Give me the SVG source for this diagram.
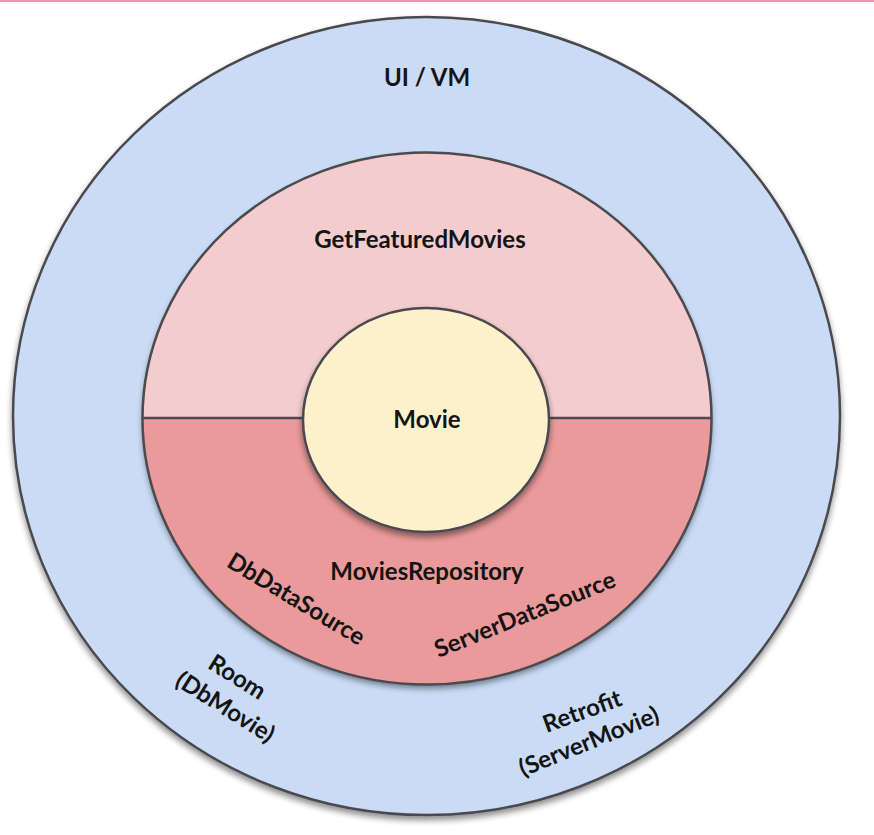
<svg xmlns="http://www.w3.org/2000/svg" width="874" height="835" viewBox="0 0 874 835">
<defs>
<filter id="sh" x="-10%" y="-10%" width="120%" height="125%">
<feGaussianBlur in="SourceAlpha" stdDeviation="3"/>
<feOffset dx="0" dy="4" result="b"/>
<feComponentTransfer><feFuncA type="linear" slope="0.45"/></feComponentTransfer>
<feMerge><feMergeNode/><feMergeNode in="SourceGraphic"/></feMerge>
</filter>
<clipPath id="top"><rect x="0" y="0" width="874" height="418"/></clipPath>
</defs>
<style>
.ring{stroke:#4a4a4f;stroke-width:2.5}
.t{font-family:Lato,"Liberation Sans",sans-serif;font-weight:700;font-size:24px;fill:#141414;text-anchor:middle}
</style>
<rect x="0" y="0" width="874" height="835" fill="#ffffff"/>
<rect x="0" y="0" width="874" height="2" fill="#e993b6"/>
<g id="ui-vm">
<ellipse class="ring" cx="426.5" cy="416" rx="413.5" ry="399" fill="#c9dbf5" filter="url(#sh)"/>
<text class="t" x="427" y="86">UI / VM</text>
</g>
<g id="use-case-layer">
<ellipse cx="427" cy="418.5" rx="284.5" ry="266" fill="#ea9a9a" filter="url(#sh)"/>
<ellipse cx="427" cy="418.5" rx="284.5" ry="266" fill="#f4cccd" clip-path="url(#top)"/>
<line x1="142" y1="418" x2="712" y2="418" class="ring"/>
<ellipse class="ring" cx="427" cy="418.5" rx="284.5" ry="266" fill="none"/>
<text class="t" x="420" y="248">GetFeaturedMovies</text>
<text class="t" x="427" y="580">MoviesRepository</text>
</g>
<g id="movie">
<ellipse class="ring" cx="426" cy="420" rx="123" ry="112" fill="#fdf1cc" filter="url(#sh)"/>
<text class="t" x="427" y="428">Movie</text>
</g>
<g id="data-sources">
<text class="t" transform="translate(292 606) rotate(31)" x="0" y="0">DbDataSource</text>
<text class="t" transform="translate(528 622) rotate(-22)" x="0" y="0">ServerDataSource</text>
</g>
<g id="frameworks">
<text class="t" transform="translate(233 684) rotate(32)" x="0" y="0">Room</text>
<text class="t" transform="translate(221 714) rotate(32)" x="0" y="0">(DbMovie)</text>
<text class="t" transform="translate(585 719) rotate(-20)" x="0" y="0">Retrofit</text>
<text class="t" transform="translate(592 749) rotate(-22)" x="0" y="0">(ServerMovie)</text>
</g>
<g id="connectors"></g>
</svg>
